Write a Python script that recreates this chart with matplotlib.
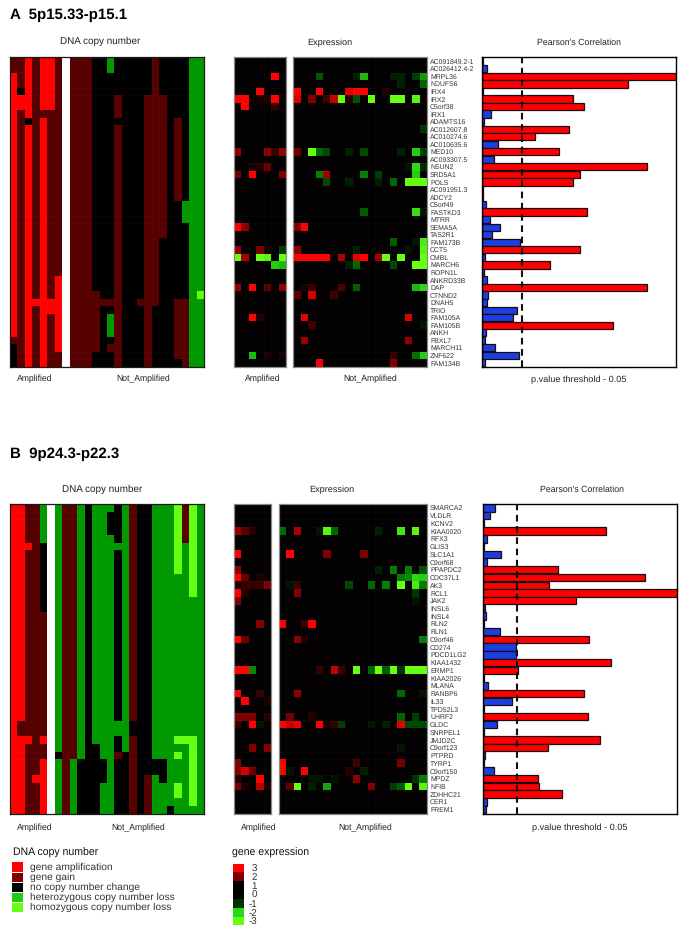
import matplotlib
matplotlib.use('Agg')
import matplotlib.pyplot as plt
import numpy as np
from matplotlib.colors import LinearSegmentedColormap, ListedColormap, BoundaryNorm
from matplotlib.patches import Rectangle

matplotlib.rcParams.update({'font.family': ['Liberation Sans', 'DejaVu Sans'], 'text.hinting': 'no_hinting'})

W, H = 685, 939

## Panel A data
genes_a = ["AC091849.2-1", "AC026412.4-2", "MRPL36", "NDUFS6", "IRX4", "IRX2", "C5orf38", "IRX1",
           "ADAMTS16", "AC012607.8", "AC010274.6", "AC010635.6", "MED10", "AC093307.5", "NSUN2",
           "SRD5A1", "POLS", "AC091951.3", "ADCY2", "C5orf49", "FASTKD3", "MTRR", "SEMA5A", "TAS2R1",
           "FAM173B", "CCT5", "CMBL", "MARCH6", "ROPN1L", "ANKRD33B", "DAP", "CTNND2", "DNAH5",
           "TRIO", "FAM105A", "FAM105B", "ANKH", "FBXL7", "MARCH11", "ZNF622", "FAM134B"]
corr_a = [.003, .022, 1.0, .752, .003, .47, .528, .043, .008, .447, .272, .083, .397, .059, .85,
          .505, .467, .005, .002, .017, .54, .041, .091, .05, .195, .503, .012, .35, .007, .024,
          .853, .028, .026, .178, .159, .674, .017, .014, .066, .188, .014]
threshold_a = .203

# copy number per sample, top to bottom, as (state, number of genes); None is the empty column
copy_a = [
    [(1, 2), (2, 35), (1, 1), (0, 3)],
    [(1, 4), (0, 1), (2, 2), (1, 34)],
    [(2, 8), (0, 1), (2, 32)],
    [(1, 32), (2, 1), (1, 8)],
    [(2, 7), (1, 1), (2, 33)],
    [(2, 7), (1, 25), (2, 2), (1, 7)],
    [(1, 29), (2, 10), (1, 2)],
    [(None, 41)],
    [(1, 41)],
    [(1, 41)],
    [(1, 41)],
    [(0, 31), (1, 8), (0, 2)],
    [(0, 32), (1, 1), (0, 8)],
    [(-1, 2), (0, 30), (1, 1), (0, 1), (-1, 3), (0, 1), (1, 1), (0, 2)],
    [(0, 5), (1, 3), (0, 1), (1, 32)],
    [(0, 41)],
    [(0, 41)],
    [(0, 32), (1, 1), (0, 8)],
    [(0, 5), (1, 36)],
    [(1, 33), (0, 8)],
    [(0, 5), (1, 19), (0, 17)],
    [(0, 41)],
    [(0, 8), (1, 11), (0, 13), (1, 8), (0, 1)],
    [(0, 19), (-1, 3), (0, 10), (1, 9)],
    [(-1, 41)],
    [(-1, 31), (-2, 1), (-1, 9)],
]

# expression, only the cells that are not black: gene -> {sample: value}
expr_a_amp = {
    "MRPL36": {5: 3}, "IRX4": {3: 3}, "IRX2": {0: 3, 1: 3, 3: .2, 4: .2, 5: 3},
    "C5orf38": {1: 3, 5: .4}, "MED10": {0: 1.2, 4: 1.2, 5: .4, 6: 1.2},
    "NSUN2": {2: .2, 3: .3, 4: .8}, "SRD5A1": {0: .9, 2: 3, 6: 1},
    "SEMA5A": {0: 3, 1: 1.2}, "CCT5": {0: 1.3, 3: .9, 4: .2, 6: -.6},
    "CMBL": {0: -3, 1: 1.6, 3: -3, 4: -2.8, 6: -3}, "MARCH6": {5: -2, 6: -1.8},
    "DAP": {0: 1.3, 2: 3, 4: .7, 6: 1.2}, "FAM105A": {2: 3, 3: .3},
    "ZNF622": {2: -1.8, 4: .2, 6: .2},
}
expr_a_not = {
    "MRPL36": {3: -.8, 8: -.3, 9: -1.8, 13: -.3, 14: -.3, 16: -.6, 17: -1.5},
    "NDUFS6": {14: -.3, 17: -1},
    "IRX4": {0: 3, 3: 3, 7: 2.5, 8: 3, 9: 3, 12: .3},
    "IRX2": {0: 2.4, 2: 1, 4: .5, 5: 2, 6: -3, 7: .3, 8: -.8, 10: -3, 13: -3, 14: -3, 16: -2.8},
    "AC012607.8": {17: -.5},
    "MED10": {0: .8, 2: -3, 3: -1, 4: -.7, 7: -.3, 9: -.7, 14: -.3, 16: -2, 17: -.6},
    "NSUN2": {15: -.2, 16: -2.2, 17: -.4},
    "SRD5A1": {3: -1.2, 4: 1.5, 9: -1.2, 11: -.6, 16: -2},
    "POLS": {4: -.7, 7: -.3, 11: -.3, 13: -1, 15: -3, 16: -3, 17: -3},
    "FASTKD3": {9: -.9, 16: -2.3, 17: -.2},
    "SEMA5A": {0: 1, 1: 3},
    "FAM173B": {13: -.9, 16: -.2, 17: -2.6},
    "CCT5": {0: 1.2, 8: -.3, 15: -.2, 17: -2.8},
    "CMBL": {0: 3, 1: 3, 2: 3, 3: 3, 4: 3, 6: 1.6, 8: 2.5, 9: 3, 11: 1.5, 12: -3, 14: -3, 17: -3},
    "MARCH6": {7: -.3, 8: -1, 13: -.7, 16: -3, 17: -3},
    "DAP": {1: .2, 2: .4, 6: .6, 8: -.9, 16: -1.8, 17: -2.2},
    "CTNND2": {0: .7, 2: 2.3, 5: .5},
    "FAM105A": {1: 2.6, 15: 2.4},
    "FAM105B": {2: .5, 17: -.2},
    "FBXL7": {1: 1.4, 15: 1.2},
    "ZNF622": {13: .4, 16: -1.1, 17: -2},
    "FAM134B": {3: 2.8, 13: 1},
}

## Panel B data
genes_b = ["SMARCA2", "VLDLR", "KCNV2", "KIAA0020", "RFX3", "GLIS3", "SLC1A1", "C9orf68", "PPAPDC2",
           "CDC37L1", "AK3", "RCL1", "JAK2", "INSL6", "INSL4", "RLN2", "RLN1", "C9orf46", "CD274",
           "PDCD1LG2", "KIAA1432", "ERMP1", "KIAA2026", "MLANA", "RANBP6", "IL33", "TPD52L3", "UHRF2",
           "GLDC", "SNRPEL1", "JMJD2C", "C9orf123", "PTPRD", "TYRP1", "C9orf150", "MPDZ", "NFIB",
           "ZDHHC21", "CER1", "FREM1"]
corr_b = [.059, .034, .005, .634, .017, .002, .091, .017, .386, .836, .34, 1.0, .479, .007, .014,
          .003, .086, .548, .167, .171, .659, .179, .003, .022, .519, .148, .002, .543, .069, .003,
          .602, .333, .01, .005, .055, .284, .286, .409, .017, .016]
threshold_b = .172

copy_b = [
    [(2, 40)],
    [(2, 28), (1, 2), (2, 10)],
    [(1, 5), (2, 1), (1, 24), (2, 1), (1, 9)],
    [(1, 35), (2, 1), (1, 4)],
    [(-1, 5), (0, 9), (1, 16), (2, 1), (1, 2), (2, 7)],
    [(None, 40)],
    [(-1, 32), (0, 1), (-1, 7)],
    [(1, 40)],
    [(1, 33), (-1, 7)],
    [(-1, 33), (0, 7)],
    [(0, 40)],
    [(-1, 31), (0, 9)],
    [(-1, 33), (0, 3), (-1, 4)],
    [(-1, 1), (0, 3), (-1, 36)],
    [(0, 5), (-1, 1), (0, 22), (-1, 2), (0, 2), (1, 1), (0, 7)],
    [(-1, 32), (0, 8)],
    [(1, 28), (0, 2), (1, 10)],
    [(0, 40)],
    [(0, 35), (1, 5)],
    [(-1, 33), (0, 2), (-1, 5)],
    [(-1, 33), (0, 3), (-1, 4)],
    [(-1, 39), (0, 1)],
    [(-2, 9), (-1, 21), (-2, 1), (-1, 1), (-2, 1), (-1, 3), (-2, 2), (-1, 2)],
    [(1, 5), (-1, 25), (-2, 1), (-1, 9)],
    [(-2, 12), (-1, 18), (-2, 9), (-1, 1)],
    [(-1, 40)],
]

expr_b_amp = {
    "KIAA0020": {0: 1.3, 1: .7, 2: .3}, "SLC1A1": {0: 3}, "PPAPDC2": {0: 1.2},
    "CDC37L1": {0: 3, 1: .8, 3: .2}, "AK3": {0: .2, 1: .4, 2: .4, 3: .4, 4: 1},
    "RCL1": {0: 3, 1: .3}, "JAK2": {0: 1}, "RLN2": {3: 1}, "C9orf46": {0: 3, 1: .8},
    "ERMP1": {0: 3, 1: 3, 2: -1.3}, "RANBP6": {0: 3, 3: .4}, "IL33": {1: 3, 4: .2},
    "UHRF2": {0: 1, 1: 1, 2: 1, 4: .3}, "GLDC": {0: .4, 2: 3, 3: -.2},
    "C9orf123": {2: 1, 4: 1}, "TYRP1": {0: 1}, "C9orf150": {0: 1, 1: 2.3, 2: .8},
    "MPDZ": {0: .3, 3: 3}, "NFIB": {0: .9, 1: .2, 3: 1.8, 4: .2},
}
expr_b_not = {
    "KIAA0020": {0: -1, 2: 1.6, 5: -.2, 6: -2.8, 7: -1, 13: -.3, 16: -2.5, 18: -2.8},
    "SLC1A1": {1: 3, 6: 1, 11: .9},
    "PPAPDC2": {13: -.3, 15: -1.2, 17: -1.2, 19: -.8},
    "CDC37L1": {16: -1.2, 17: -1.3, 18: -2.2, 19: -2},
    "AK3": {1: -.2, 2: .4, 9: -.7, 12: -1, 14: -1.2, 16: -3, 18: -2.6, 19: -1.2},
    "RCL1": {2: 1, 18: -.5},
    "JAK2": {18: -.2},
    "RLN2": {0: 3, 3: .4, 4: 3},
    "C9orf46": {2: 1.2, 3: .2, 19: -1.2},
    "ERMP1": {5: .4, 7: 2, 8: .4, 10: -3, 12: -1, 13: -3, 14: -.9, 15: -3, 16: -.5, 17: -3, 18: -3, 19: -3},
    "RANBP6": {2: 1.2, 16: -1, 19: -.2},
    "UHRF2": {1: .9, 4: .3, 16: -1, 18: -.6},
    "GLDC": {0: 3, 1: 2.2, 2: 2.6, 5: 3, 6: .2, 7: .4, 8: -.6, 12: -.2, 14: -.3, 16: 2.6, 17: -.7, 18: -.7, 19: -.7},
    "C9orf123": {16: -.2},
    "TYRP1": {0: 3, 10: .5, 16: .9},
    "C9orf150": {0: 3, 1: -.2, 3: 3, 9: .3, 11: -.3},
    "MPDZ": {4: -.2, 5: -.2, 7: -.2, 10: 1.2, 18: -.5, 19: -1.2},
    "NFIB": {1: .7, 2: -3, 4: -.3, 6: -1.6, 12: 1, 15: -.6, 16: -.9, 17: -3, 19: -2.8},
}

## Legend data
copy_states = ["gene amplification", "gene gain", "no copy number change",
               "heterozygous copy number loss", "homozygous copy number loss"]
copy_colors = ['#ff0000', '#800000', '#000000', '#22cc11', '#66ff11']
expr_levels = [3, 2, 1, 0, -1, -2, -3]
expr_key_colors = ['#ff0000', '#800000', '#000000', '#000000', '#003300', '#22dd11', '#66ff11']

# colours
cn_cmap = ListedColormap(['#66ff11', '#009900', '#000000', '#560000', '#ff0000'])
cn_cmap.set_bad('white')
cn_norm = BoundaryNorm([-2.5, -1.5, -.5, .5, 1.5, 2.5], 5)
expr_cmap = LinearSegmentedColormap.from_list(
    'expr', [(0, '#66ff11'), (1/6., '#22cc11'), (2/6., '#006600'), (.5, '#000000'),
             (4/6., '#800000'), (5/6., '#c00000'), (1, '#ff0000')])


def pixel_axes(fig, x0, y0, x1, y1):
    # axes from a box given in image pixels, y going down
    return fig.add_axes([x0 / W, 1 - y1 / H, (x1 - x0) / W, (y1 - y0) / H])


def expand_copy(columns, n_genes):
    M = np.zeros((n_genes, len(columns)))
    for j, runs in enumerate(columns):
        M[:, j] = np.concatenate([[np.nan if s is None else s] * n for s, n in runs])
    return np.ma.masked_invalid(M)


def expand_expr(cells, genes, n_samples):
    M = np.zeros((len(genes), n_samples))
    for gene, row in cells.items():
        for sample, value in row.items():
            M[genes.index(gene), sample] = value
    return M


def heatmap(fig, box, M, cmap, norm=None, vmin=None, vmax=None, frame='#1a1a1a'):
    ax = pixel_axes(fig, *box)
    ax.pcolormesh(M, cmap=cmap, norm=norm, vmin=vmin, vmax=vmax,
                  edgecolors=(1, 1, 1, .025), linewidth=.4)
    ax.set_ylim(M.shape[0], 0)
    ax.set_xticks([])
    ax.set_yticks([])
    for s in ax.spines.values():
        s.set_edgecolor(frame)
        s.set_linewidth(.9)
    return ax


def correlation(fig, box, genes, corr, threshold):
    ax = pixel_axes(fig, *box)
    y = np.arange(len(genes))
    colors = ['#ff0000' if c > threshold else '#1c3fe0' for c in corr]
    ax.barh(y, corr, height=.96, color=colors, edgecolor='#1a0a14', linewidth=.9)
    ax.axvline(threshold, color='#111111', lw=1.5, dashes=(3.2, 2.2), zorder=5)
    ax.set_xlim(0, 1)
    ax.set_ylim(len(genes) - .5, -.5)
    ax.set_xticks([])
    ax.set_yticks(y)
    ax.set_yticklabels(genes, fontsize=4.95, color='#333333', ha='left')
    ax.tick_params(axis='y', length=0, pad=(box[0] - 430) * .72)
    for s in ax.spines.values():
        s.set_linewidth(1.0)
    return ax


def panel_text(x, y, s, **kw):
    kw.setdefault('fontsize', 6.2)
    kw.setdefault('color', '#222222')
    kw.setdefault('ha', 'center')
    fig.text(x / W, 1 - y / H, s, va='center', **kw)


fig = plt.figure(figsize=(W / 100., H / 100.), dpi=100)

## Panel A
heatmap(fig, (10, 57.5, 204, 366.7), expand_copy(copy_a, len(genes_a)), cn_cmap, norm=cn_norm)
heatmap(fig, (233.7, 57.5, 286, 366.7), expand_expr(expr_a_amp, genes_a, 7), expr_cmap, vmin=-3, vmax=3, frame='#888888')
heatmap(fig, (293.3, 57.5, 427, 366.7), expand_expr(expr_a_not, genes_a, 18), expr_cmap, vmin=-3, vmax=3, frame='#888888')
correlation(fig, (482.3, 57.5, 675.7, 366.7), genes_a, corr_a, threshold_a)

panel_text(10, 15, "A  5p15.33-p15.1", ha='left', fontsize=10.8, fontweight='bold', color='black')
panel_text(100, 41.5, "DNA copy number", fontsize=7.1)
panel_text(330, 43, "Expression", fontsize=6.6)
panel_text(579, 43, "Pearson's Correlation", fontsize=6.3)
panel_text(35, 379, "Amplified")
panel_text(143, 379, "Not_Amplified")
panel_text(263, 379, "Amplified")
panel_text(370, 379, "Not_Amplified")
panel_text(579, 380, "p.value threshold - 0.05", fontsize=6.55)

## Panel B
heatmap(fig, (10, 504, 204, 813.5), expand_copy(copy_b, len(genes_b)), cn_cmap, norm=cn_norm)
heatmap(fig, (233.7, 504, 271, 813.5), expand_expr(expr_b_amp, genes_b, 5), expr_cmap, vmin=-3, vmax=3, frame='#888888')
heatmap(fig, (278.7, 504, 426.7, 813.5), expand_expr(expr_b_not, genes_b, 20), expr_cmap, vmin=-3, vmax=3, frame='#888888')
correlation(fig, (483.3, 504, 676.7, 813.5), genes_b, corr_b, threshold_b)

panel_text(10, 454, "B  9p24.3-p22.3", ha='left', fontsize=10.8, fontweight='bold', color='black')
panel_text(102, 489, "DNA copy number", fontsize=7.1)
panel_text(332, 490, "Expression", fontsize=6.6)
panel_text(582, 490, "Pearson's Correlation", fontsize=6.3)
panel_text(35, 827.5, "Amplified")
panel_text(138.5, 827.5, "Not_Amplified")
panel_text(258.5, 828, "Amplified")
panel_text(365.5, 828, "Not_Amplified")
panel_text(580, 828, "p.value threshold - 0.05", fontsize=6.55)

## Legends, drawn on an overlay in pixel coordinates
overlay = fig.add_axes([0, 0, 1, 1])
overlay.set_xlim(0, W)
overlay.set_ylim(H, 0)
overlay.axis('off')
overlay.patch.set_alpha(0)

panel_text(13, 853, "DNA copy number", ha='left', fontsize=7.6, color='#111111')
for i, (state, color) in enumerate(zip(copy_states, copy_colors)):
    yc = 867 + i * 10.1
    overlay.add_patch(Rectangle((12, yc - 4.6), 11, 9.4, color=color, lw=0))
    panel_text(30, yc, state, ha='left', fontsize=7.4, color='#333333')

panel_text(232, 853, "gene expression", ha='left', fontsize=7.6, color='#111111')
for i, (level, color) in enumerate(zip(expr_levels, expr_key_colors)):
    overlay.add_patch(Rectangle((233.5, 863.5 + i * 8.85), 10.5, 8.85, color=color, lw=0))
    panel_text(257, 869 + i * 8.85, str(level), ha='right', fontsize=7, color='#333333')

fig.savefig('out.png', dpi=100)
